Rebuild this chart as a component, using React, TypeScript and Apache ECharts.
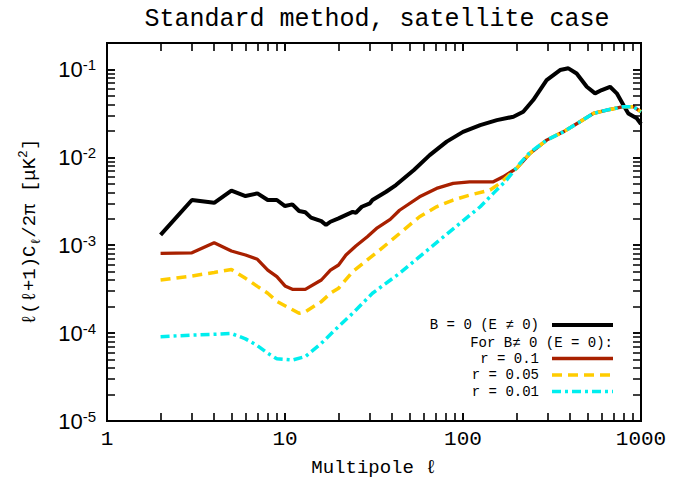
import React, { useEffect, useRef } from 'react';
import * as echarts from 'echarts';

// Multipole values and power spectra
const blackL = [2, 3, 4, 5, 6, 7, 8, 9, 10, 11, 12, 13, 14, 16, 17, 18, 20, 24, 25, 27, 30, 31, 37, 42, 53, 65, 81, 100, 125, 155, 192, 218, 248, 295, 351, 391, 435, 496, 552, 602, 670, 731, 796, 849, 946, 1000];
const blackC = [1.31e-3, 3.27e-3, 3.04e-3, 4.17e-3, 3.63e-3, 3.89e-3, 3.27e-3, 3.27e-3, 2.79e-3, 2.92e-3, 2.45e-3, 2.37e-3, 2.06e-3, 1.88e-3, 1.70e-3, 1.85e-3, 2.02e-3, 2.40e-3, 2.34e-3, 2.74e-3, 3.0e-3, 3.27e-3, 4.06e-3, 4.84e-3, 7.18e-3, 1.06e-2, 1.51e-2, 1.95e-2, 2.33e-2, 2.65e-2, 2.9e-2, 3.3e-2, 4.49e-2, 7.57e-2, 9.84e-2, 1.03e-1, 9.0e-2, 6.35e-2, 5.35e-2, 5.83e-2, 6.35e-2, 5.35e-2, 3.94e-2, 3.16e-2, 2.78e-2, 2.4e-2];

const redL = [2, 3, 4, 5, 6, 7, 8, 9, 10, 11, 13, 16, 18, 20, 22, 25, 29, 33, 39, 44, 57, 71, 88, 109, 148, 168, 200, 238, 295, 366, 454, 540, 642, 796, 906, 1000];
const redC = [8.09e-4, 8.2e-4, 1.07e-3, 8.6e-4, 7.74e-4, 6.92e-4, 5.22e-4, 4.39e-4, 3.44e-4, 3.15e-4, 3.15e-4, 4.02e-4, 5.22e-4, 5.96e-4, 7.74e-4, 9.8e-4, 1.25e-3, 1.58e-3, 1.97e-3, 2.5e-3, 3.56e-3, 4.43e-3, 5.06e-3, 5.27e-3, 5.27e-3, 6.0e-3, 7.5e-3, 1.11e-2, 1.57e-2, 1.95e-2, 2.54e-2, 3.16e-2, 3.45e-2, 3.77e-2, 3.77e-2, 3.3e-2];

const yellowL = [2, 3, 4, 5, 6, 7, 8, 9, 12, 13, 16, 18, 20, 24, 29, 34, 44, 57, 71, 88, 109, 142, 161, 200, 238, 295, 366, 454, 540, 642, 796, 906, 1000];
const yellowC = [4.02e-4, 4.47e-4, 4.9e-4, 5.3e-4, 4.2e-4, 3.4e-4, 2.84e-4, 2.3e-4, 1.68e-4, 1.75e-4, 2.28e-4, 2.84e-4, 3.24e-4, 5.0e-4, 6.8e-4, 8.8e-4, 1.36e-3, 2.11e-3, 2.74e-3, 3.27e-3, 3.72e-3, 4.25e-3, 5.06e-3, 7.5e-3, 1.11e-2, 1.57e-2, 1.95e-2, 2.54e-2, 3.16e-2, 3.45e-2, 3.77e-2, 3.77e-2, 3.3e-2];

const cyanL = [2, 3, 4, 5, 6, 7, 8, 9, 11, 13, 16, 20, 24, 31, 44, 74, 96, 125, 148, 176, 209, 238, 295, 366, 454, 540, 642, 796, 906, 1000];
const cyanC = [9.1e-5, 9.5e-5, 9.7e-5, 9.9e-5, 8.6e-5, 7.2e-5, 5.89e-5, 5.1e-5, 4.94e-5, 5.4e-5, 7.66e-5, 1.19e-4, 1.68e-4, 2.84e-4, 4.79e-4, 1.15e-3, 1.77e-3, 2.74e-3, 3.89e-3, 5.53e-3, 8.55e-3, 1.14e-2, 1.57e-2, 1.95e-2, 2.54e-2, 3.16e-2, 3.45e-2, 3.77e-2, 3.77e-2, 3.3e-2];

const xTickLabels = ['1', '10', '100', '1000'];
const xTickVals = [2, 3, 4, 5, 6, 7, 8, 9, 10, 20, 30, 40, 50, 60, 70, 80, 90, 100, 200, 300, 400, 500, 600, 700, 800, 900];
const yTickVals = [
  2e-5, 3e-5, 4e-5, 5e-5, 6e-5, 7e-5, 8e-5, 9e-5, 1e-4,
  2e-4, 3e-4, 4e-4, 5e-4, 6e-4, 7e-4, 8e-4, 9e-4, 1e-3,
  2e-3, 3e-3, 4e-3, 5e-3, 6e-3, 7e-3, 8e-3, 9e-3, 1e-2,
  2e-2, 3e-2, 4e-2, 5e-2, 6e-2, 7e-2, 8e-2, 9e-2, 1e-1,
];
const legendLabels = ['B = 0 (E \u2260 0)', 'For B\u2260 0 (E = 0):', 'r = 0.1', 'r = 0.05', 'r = 0.01'];
const titleText = 'Standard method, satellite case';
const xName = 'Multipole \u2113';

const X_MIN = 1, X_MAX = 1000, Y_MIN = 1e-5, Y_MAX = 0.2;
const MONO = '"Liberation Mono", monospace';
const SANS = '"Liberation Sans", sans-serif';
const TL = 8;

function pairs(l: number[], c: number[]) {
  return l.map((v, i) => [v, c[i]]);
}

function isPow10(v: number) {
  const e = Math.log10(v);
  return Math.abs(e - Math.round(e)) < 1e-6;
}

const tickAxis = { show: true, inside: true, length: TL, lineStyle: { color: '#000', width: 1.6 } };

export default function App() {
  const ref = useRef<HTMLDivElement>(null);
  useEffect(() => {
    document.body.style.margin = '0';
    const chart = echarts.init(ref.current!, null, { renderer: 'svg' });
    const series: any[] = [
      { name: legendLabels[0], data: pairs(blackL, blackC), color: '#000000', width: 4, type: 'solid' },
      { name: legendLabels[2], data: pairs(redL, redC), color: '#a82000', width: 3.3, type: 'solid' },
      { name: legendLabels[3], data: pairs(yellowL, yellowC), color: '#ffcc00', width: 3.5, type: [10, 6] },
      { name: legendLabels[4], data: pairs(cyanL, cyanC), color: '#00eeee', width: 3.5, type: [9, 4, 3, 4] },
    ].map((s) => ({
      type: 'line',
      name: s.name,
      data: s.data,
      showSymbol: false,
      symbol: 'none',
      xAxisIndex: 0,
      yAxisIndex: 0,
      lineStyle: { color: s.color, width: s.width, type: s.type },
    }));

    chart.setOption({
      animation: false,
      grid: { left: 107, top: 43, right: 42, bottom: 64, show: true, borderColor: '#000', borderWidth: 2, backgroundColor: 'transparent' },
      xAxis: [
        {
          type: 'log', min: X_MIN, max: X_MAX, position: 'bottom',
          axisLine: { show: false }, axisTick: tickAxis, splitLine: { show: false },
          axisLabel: {
            margin: 8, fontSize: 21, fontFamily: MONO, color: '#000',
            formatter: (v: number) => {
              if (!isPow10(v)) return '';
              const idx = Math.round(Math.log10(v));
              return xTickLabels[idx] ?? '';
            },
          },
        },
        {
          type: 'log', min: X_MIN, max: X_MAX, position: 'top',
          axisLine: { show: false }, axisTick: tickAxis, splitLine: { show: false }, axisLabel: { show: false },
        },
      ],
      yAxis: [
        {
          type: 'log', min: Y_MIN, max: Y_MAX, position: 'left',
          axisLine: { show: false }, axisTick: tickAxis, splitLine: { show: false },
          axisLabel: {
            margin: 11, color: '#000',
            showMaxLabel: false,
            formatter: (v: number) => {
              if (!isPow10(v)) return '';
              return '{b|10}{s|' + Math.round(Math.log10(v)) + '}';
            },
            rich: {
              b: { fontSize: 22, fontFamily: SANS, color: '#000', lineHeight: 24 },
              s: { fontSize: 15, fontFamily: SANS, color: '#000', verticalAlign: 'top', lineHeight: 15 },
            },
          },
        },
        {
          type: 'log', min: Y_MIN, max: Y_MAX, position: 'right',
          axisLine: { show: false }, axisTick: tickAxis, splitLine: { show: false }, axisLabel: { show: false },
        },
      ],
      series,
    });

    const p = (x: number, y: number) => chart.convertToPixel({ xAxisIndex: 0, yAxisIndex: 0 }, [x, y]) as number[];
    const lb = p(X_MIN, Y_MIN);
    const rt = p(X_MAX, Y_MAX);
    const left = lb[0], bottom = lb[1], right = rt[0], top = rt[1];
    const cx = (left + right) / 2;
    const cy = (top + bottom) / 2;
    // data-space factor that corresponds to the tick length on each log axis
    const fx = Math.pow(10, TL * Math.log10(X_MAX / X_MIN) / (right - left));
    const fy = Math.pow(10, TL * Math.log10(Y_MAX / Y_MIN) / (bottom - top));

    const tickData: any[] = [];
    xTickVals.forEach((v) => {
      tickData.push({ coords: [[v, Y_MIN], [v, Y_MIN * fy]] });
      tickData.push({ coords: [[v, Y_MAX], [v, Y_MAX / fy]] });
    });
    yTickVals.forEach((v) => {
      tickData.push({ coords: [[X_MIN, v], [X_MIN * fx, v]] });
      tickData.push({ coords: [[X_MAX, v], [X_MAX / fx, v]] });
    });

    const g: any[] = [];
    // title
    g.push({ type: 'text', x: cx + 3, y: 19, style: { text: titleText, font: `25px ${MONO}`, fill: '#000', align: 'center', verticalAlign: 'middle' } });
    // x name
    g.push({ type: 'text', x: cx, y: 468, style: { text: xName, font: `19px ${MONO}`, fill: '#000', align: 'center', verticalAlign: 'middle' } });
    // y name
    g.push({
      type: 'text', x: 30, y: cy, rotation: Math.PI / 2,
      style: {
        text: '{n|\u2113(\u2113+1)C}{u|\u2113}{n|/2\u03c0 [\u03bcK}{t|2}{n|]}',
        align: 'center', verticalAlign: 'middle', fill: '#000',
        rich: {
          n: { fontSize: 19, fontFamily: MONO, lineHeight: 26, fill: '#000' },
          u: { fontSize: 13, fontFamily: MONO, lineHeight: 13, verticalAlign: 'bottom', fill: '#000' },
          t: { fontSize: 13, fontFamily: MONO, lineHeight: 13, verticalAlign: 'top', fill: '#000' },
        },
      },
    });
    // legend
    const rows = [325, 342.5, 358.5, 375, 391.5];
    const lineStyles = [
      { stroke: '#000000', lineWidth: 4 },
      null,
      { stroke: '#a82000', lineWidth: 3.3 },
      { stroke: '#ffcc00', lineWidth: 3.5, lineDash: [10, 6] },
      { stroke: '#00eeee', lineWidth: 3.5, lineDash: [9, 4, 3, 4] },
    ];
    legendLabels.forEach((lab, i) => {
      const isHeader = i === 1;
      g.push({ type: 'text', x: isHeader ? 613 : 539, y: rows[i], style: { text: lab, font: `14px ${MONO}`, fill: '#000', align: 'right', verticalAlign: 'middle' } });
      const ls = lineStyles[i];
      if (ls) g.push({ type: 'line', shape: { x1: 552, y1: rows[i], x2: 613, y2: rows[i] }, style: ls });
    });

    chart.setOption({
      series: [
        ...series,
        {
          type: 'lines',
          name: 'ticks',
          coordinateSystem: 'cartesian2d',
          xAxisIndex: 0,
          yAxisIndex: 0,
          polyline: false,
          silent: true,
          z: 6,
          data: tickData,
          lineStyle: { color: '#000', width: 1.6, opacity: 1, curveness: 0 },
        },
      ],
      graphic: { elements: g },
    });
    return () => chart.dispose();
  }, []);
  return <div ref={ref} style={{ width: 683, height: 485 }} />;
}
